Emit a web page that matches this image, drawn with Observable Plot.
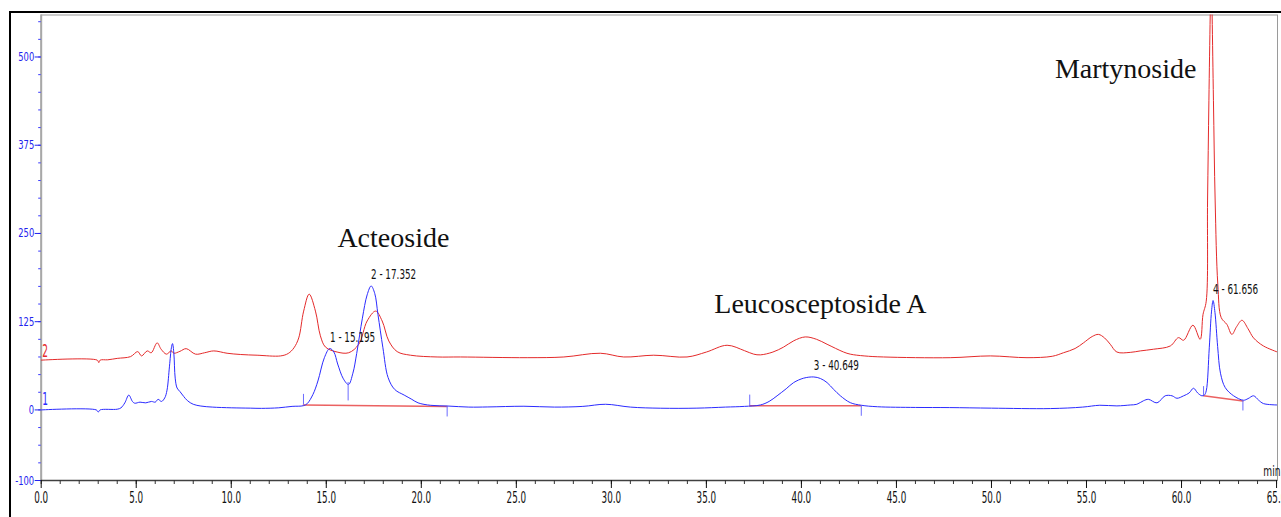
<!DOCTYPE html>
<html><head><meta charset="utf-8">
<script src="https://cdn.jsdelivr.net/npm/d3@7"></script>
<script src="https://cdn.jsdelivr.net/npm/@observablehq/plot@0.6"></script>
<style>
body{margin:0;background:#fff;}
#wrap{position:relative;width:1281px;height:517px;overflow:hidden;}
#border{position:absolute;left:9px;top:11px;right:-4px;bottom:-4px;border-left:2px solid #000;border-top:2px solid #000;pointer-events:none;}
</style></head><body><div id="wrap"></div>
<script>
// Detector trace 1 (blue) [time min, signal]
const channel1 = [
[0,0],[2.9,0],[3.0,-3],[3.1,0],[4.0,1],[4.2,3],[4.4,10],[4.61,21],[4.8,12],[4.92,9.5],[5.2,11],[5.5,10],[5.8,12],[6.0,11],[6.15,15],[6.33,12],[6.5,17],[6.62,28],[6.75,62],[6.85,88],[6.91,94],[6.98,80],[7.05,45],[7.15,31],[7.3,26],[7.5,19],[7.7,13],[8.0,8],[8.4,5.5],[9.0,4],[10,3],[11,2.5],[11.6,2.2],[12.5,3],[13.2,5],[13.8,6],[14.0,9],[14.3,22],[14.56,41],[14.9,74],[15.18,87],[15.4,82],[15.6,65],[15.9,44],[16.17,36],[16.4,52],[16.6,80],[16.9,130],[17.15,163],[17.36,175.6],[17.55,165],[17.72,135],[17.98,88],[18.25,46],[18.6,29],[19.1,21],[19.5,15],[19.83,10],[20.5,6.5],[21.4,5.5],[22.5,4],[23.5,4.2],[25.4,5.2],[27,4],[28.5,5],[29.7,8],[31,4],[32.6,2.4],[34.5,2.5],[36,4],[37,5],[37.84,7],[38.3,12],[38.72,20],[39.2,30],[39.59,38.7],[40.12,45],[40.65,46.7],[41.0,44.5],[41.35,38.7],[41.7,29],[42.05,20],[42.57,10.3],[43.15,6.6],[44,4.5],[46,3.5],[47.8,3.3],[50,2.5],[53.1,1.9],[54.8,4],[55.7,6.6],[56.6,5.7],[57.3,7],[57.65,8],[58.0,13],[58.26,15],[58.71,10],[59.14,20],[59.5,20],[59.76,16.5],[60.11,20],[60.4,24],[60.63,30.7],[60.85,24],[61.07,20],[61.2,21],[61.3,27],[61.46,88],[61.58,140],[61.66,155],[61.76,138],[61.9,90],[62.05,52],[62.3,31.6],[62.74,20],[63.26,13.7],[63.5,16],[63.79,20],[64.05,14],[64.31,9],[65.05,7]
];
// Detector trace 2 (red), as plotted (offset trace)
const channel2 = [
[0,70.5],[2.95,70.5],[3.03,67],[3.1,70.5],[3.5,71],[4.0,73],[4.7,75.5],[5.08,82.6],[5.28,76.5],[5.58,83.6],[5.79,81],[6.1,95],[6.31,86],[6.59,79],[6.84,83.6],[6.98,80.3],[7.3,83],[7.63,86.8],[8.12,79],[8.6,81],[9.08,83.6],[9.78,80.3],[10.5,78.5],[11.36,77.5],[12.6,76.5],[13.0,80],[13.3,88],[13.55,102],[13.81,140],[14.1,164],[14.43,140],[14.69,105],[14.96,89],[15.57,82],[16.18,81],[16.71,93],[17.15,126],[17.6,140],[17.94,126],[18.29,97.7],[18.73,82.6],[19.43,77.5],[20.83,75],[22.06,75],[25.57,74],[27.5,75],[29.42,80.3],[30.65,75],[32.23,77.5],[33.98,75],[35.0,82],[36.09,91.6],[37.0,84],[37.49,79],[37.84,78],[38.5,82],[39.06,89],[39.6,98],[40.2,103.4],[40.8,100],[41.35,93],[42.22,82],[42.57,79],[43.3,76.5],[44.32,75],[47.83,74],[49.94,76.5],[51.87,74],[53.2,76],[53.79,81],[54.4,87],[54.84,95],[55.3,104],[55.63,107],[55.95,102],[56.25,93],[56.6,82],[57.3,81.5],[57.83,83.6],[58.53,86],[59.41,90.6],[59.84,102.4],[60.11,98.7],[60.6,120],[60.98,100],[61.13,135],[61.3,154],[61.37,296],[61.44,438],[61.51,560],[61.56,640],[61.61,560],[61.68,438],[61.77,296],[61.91,178],[62.09,130.7],[62.39,121],[62.65,107],[62.9,118],[63.18,127],[63.5,115],[63.79,102],[64.31,90.6],[65.05,82]
];
// Integration baselines [start t, start v, end t, end v]
const baselines = [[13.8,7,21.36,5],[37.28,6,43.15,6],[61.16,20,63.23,12.7]];
// Peak start/end markers [t, v1, v2]
const markers = [[13.8,7,22],[16.15,12.7,38.7],[21.36,5,-10],[37.28,6,21],[43.15,6,-9],[61.16,20,33],[63.23,12.7,-1.5]];
// Peak labels
const peakNumbers = [1,2,3,4];
const peakTimes = [15.195,17.352,40.649,61.656];
const peakHeights = [87,175.6,46.7,155];
// Compound names
const compoundNames = ["Acteoside","Leucosceptoside A","Martynoside"];
const compoundTimes = [18.53,41.0,57.06];
const compoundLevels = [231,137,470];
// Trace numbers
const traceNames = ["1","2"];
const traceLevels = [7,75];
const traceColors = ["#2b2bff","#e42a2a"];
// Axis ticks
const yMajor = [-100,0,125,250,375,500];
const yMinor = d3.range(-100,551,25);
const xMajor = d3.range(0,66,5);
const xMinor = d3.range(0,66,1);

const SANS = "'DejaVu Sans',sans-serif";
const SERIF = "'Liberation Serif','Times New Roman',serif";
const d1 = channel1.map(([t,v])=>({t,v}));
const d2 = channel2.map(([t,v])=>({t,v}));
const bl = baselines.flatMap(([t1,v1,t2,v2],i)=>[{t:t1,v:v1,k:i},{t:t2,v:v2,k:i}]);
const mk = markers.map(([t,v1,v2])=>({t,v1,v2}));
const pk = peakNumbers.map((n,i)=>({t:peakTimes[i],v:peakHeights[i],s:`${n} - ${peakTimes[i].toFixed(3)}`}));
const cp = compoundNames.map((s,i)=>({s,t:compoundTimes[i],v:compoundLevels[i]}));
const tr = traceNames.map((s,i)=>({s,v:traceLevels[i],c:traceColors[i]}));

const chart = Plot.plot({
  width:1281, height:517,
  marginLeft:40.7, marginRight:4, marginTop:14.5, marginBottom:37,
  x:{domain:[0,65.05]}, y:{domain:[-100,559.5]},
  style:{fontFamily:SANS, background:"#fff"},
  marks:[
    Plot.frame({stroke:"#9a9a9a", strokeWidth:1}),
    Plot.ruleX([0],{stroke:"#a8a8a8", strokeWidth:2}),
    Plot.ruleY([-100],{stroke:"#404040", strokeWidth:1.5}),
    Plot.axisY(yMinor,{tickSize:2.5, text:null, color:"#3a3aff", label:null}),
    Plot.axisY(yMajor,{tickSize:6, tickPadding:1, color:"#2222ee", tickFormat:d=>String(d), label:null}),
    Plot.axisX(xMinor,{tickSize:4, text:null, color:"#333", label:null}),
    Plot.axisX(xMajor,{tickSize:8, tickPadding:3.5, color:"#111", tickFormat:d3.format(".1f"), label:null}),
    Plot.line(bl,{x:"t", y:"v", z:"k", stroke:"#e84545", strokeWidth:1.5, strokeOpacity:0.85}),
    Plot.line(d2,{x:"t", y:"v", stroke:"#e42a2a", strokeWidth:1, curve:"catmull-rom", clip:true}),
    Plot.line(d1,{x:"t", y:"v", stroke:"#2b2bff", strokeWidth:1, curve:"catmull-rom", clip:true}),
    Plot.ruleX(mk,{x:"t", y1:"v1", y2:"v2", stroke:"#6b6bff", strokeWidth:1}),
    Plot.text(pk,{x:"t", y:"v", text:"s", textAnchor:"start", lineAnchor:"bottom", dy:-7, fill:"#111"}),
    Plot.text(cp,{x:"t", y:"v", text:"s", textAnchor:"middle", lineAnchor:"bottom", fontSize:28, fontFamily:SERIF, fill:"#111"}),
    Plot.text(tr,{x:()=>0, y:"v", text:"s", fill:"c", textAnchor:"start", lineAnchor:"bottom", dx:1}),
    Plot.text(["min"],{frameAnchor:"bottom-right", textAnchor:"end", lineAnchor:"bottom", dx:3, dy:-5, fill:"#111"})
  ]
});
// resize and condense the sans-serif labels to mimic the tall narrow instrument font
const xLabelSet = new Set(xMajor.map(d3.format(".1f")));
const yLabelSet = new Set(yMajor.map(String));
const traceSet = new Set(traceNames);
chart.querySelectorAll("text").forEach(el => {
  const famEl = el.closest("[font-family]");
  const fam = (famEl ? famEl.getAttribute("font-family") : "") || "";
  if (fam.includes("Serif")) return;
  const s = el.textContent.replace("\u2212","-");
  let fs, k;
  if (xLabelSet.has(s)) { fs = 16; k = 0.55; }
  else if (yLabelSet.has(s)) { fs = 12.5; k = 0.67; }
  else if (traceSet.has(s)) { fs = 17; k = 0.53; }
  else if (s === "min") { fs = 14; k = 0.65; }
  else { fs = 14; k = 0.63; }
  el.style.fontSize = fs + "px";
  el.setAttribute("font-size", fs);
  const x = parseFloat(el.getAttribute("x")) || 0;
  const y = parseFloat(el.getAttribute("y")) || 0;
  const t = el.getAttribute("transform") || "";
  el.setAttribute("transform", `${t} translate(${x},${y}) scale(${k},1) translate(${-x},${-y})`.trim());
});
const wrap = document.getElementById("wrap");
wrap.appendChild(chart);
const b = document.createElement("div"); b.id="border"; wrap.appendChild(b);
</script>
</body></html>
